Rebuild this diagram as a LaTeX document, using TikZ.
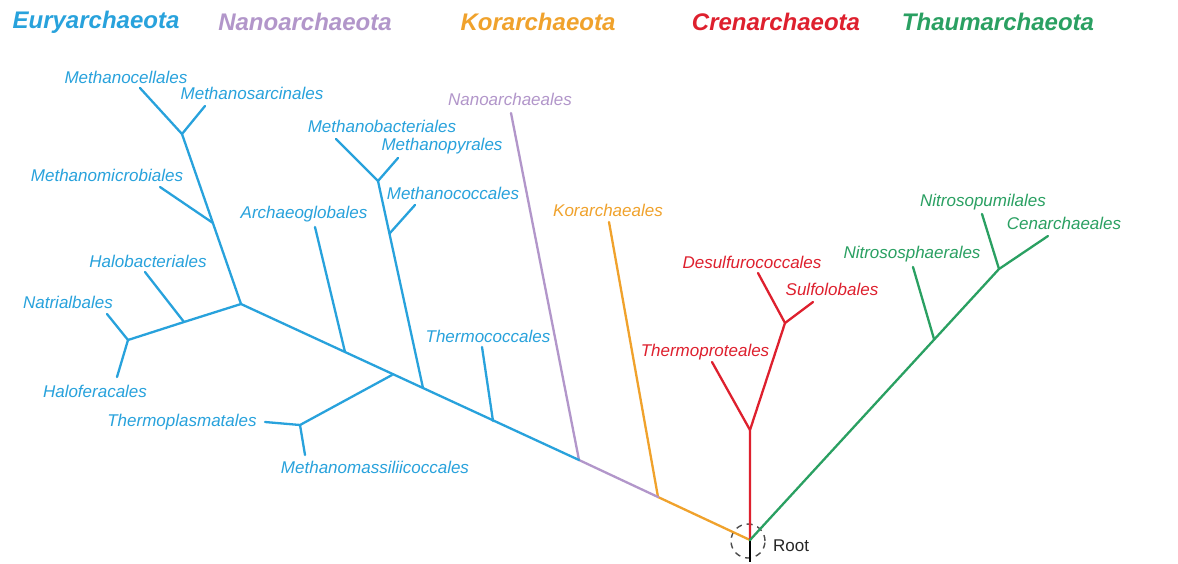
\documentclass[tikz,border=0pt]{standalone}
\usepackage{fontspec}
\usepackage{xcolor}
\newfontfamily\treeFont{Liberation Sans}
\definecolor{euryBlue}{RGB}{40,162,220}
\definecolor{nanoPurple}{RGB}{178,150,202}
\definecolor{korOrange}{RGB}{240,162,44}
\definecolor{crenRed}{RGB}{222,32,46}
\definecolor{thaumGreen}{RGB}{42,160,98}
\newcommand{\treeLeafFont}{\treeFont\itshape\fontsize{17}{20}\selectfont}
\newcommand{\treeCladeFont}{\treeFont\bfseries\itshape\fontsize{24}{28}\selectfont}

\begin{document}
\begin{tikzpicture}[x=1pt,y=-1pt,
  leaf/.style={font=\treeLeafFont, inner sep=0pt, anchor=center},
  clade/.style={font=\treeCladeFont, inner sep=0pt, anchor=center},
  branch/.style={line width=2.3pt, line cap=round, line join=round}]
\useasboundingbox[fill=white] (0,0) rectangle (1178,563);
\node[clade, text=euryBlue] (hEury) at (96,22) {Euryarchaeota};
\node[clade, text=nanoPurple] (hNano) at (305,22) {Nanoarchaeota};
\node[clade, text=korOrange] (hKor) at (538,22) {Korarchaeota};
\node[clade, text=crenRed] (hCren) at (776,22) {Crenarchaeota};
\node[clade, text=thaumGreen] (hThaum) at (998,22) {Thaumarchaeota};
\coordinate (root) at (750,540);
\coordinate (jKor) at (658,497);
\coordinate (jNano) at (579,460);
\coordinate (jThermococ) at (493,421);
\coordinate (jMbact) at (423,388);
\coordinate (jTplasma) at (392,375);
\coordinate (jArchaeo) at (345,352);
\coordinate (jEury) at (241,304);
\coordinate (jHalobac) at (184,322);
\coordinate (jHalofer) at (128,340);
\coordinate (jMmicro) at (213,223);
\coordinate (jMsarc) at (182,134);
\coordinate (jMcocc) at (390,233);
\coordinate (jMpyr) at (378,181);
\coordinate (jMmass) at (300,425);
\coordinate (jThermoprot) at (750,430);
\coordinate (jSulfo) at (785,323);
\coordinate (jNitrososph) at (934,339);
\coordinate (jNitrosopum) at (999,269);
\coordinate (tMcell) at (140,88);
\coordinate (tMsarc) at (205,106);
\coordinate (tMmicro) at (160,187);
\coordinate (tHalobac) at (145,272);
\coordinate (tNatri) at (107,314);
\coordinate (tHalofer) at (117,377);
\coordinate (tTplasma) at (265,422);
\coordinate (tMmass) at (305,455);
\coordinate (tArchaeo) at (315,227);
\coordinate (tMbact) at (336,139);
\coordinate (tMpyr) at (398,158);
\coordinate (tMcocc) at (415,205);
\coordinate (tThermococ) at (482,347);
\coordinate (tNano) at (511,113);
\coordinate (tKor) at (609,222);
\coordinate (tDesulfo) at (758,273);
\coordinate (tSulfo) at (813,302);
\coordinate (tThermoprot) at (712,362);
\coordinate (tNitrosopum) at (982,214);
\coordinate (tCenarch) at (1048,236);
\coordinate (tNitrososph) at (913,267);
\coordinate (rootEnd) at (750,562);
\node[leaf, text=euryBlue] (lMcell) at (126,77) {Methanocellales};
\node[leaf, text=euryBlue] (lMsarc) at (252,93) {Methanosarcinales};
\node[leaf, text=euryBlue] (lMmicro) at (107,175) {Methanomicrobiales};
\node[leaf, text=euryBlue] (lHalobac) at (148,261) {Halobacteriales};
\node[leaf, text=euryBlue] (lNatri) at (68,302) {Natrialbales};
\node[leaf, text=euryBlue] (lHalofer) at (95,391) {Haloferacales};
\node[leaf, text=euryBlue] (lTplasma) at (182,422) {Thermoplasmatales};
\node[leaf, text=euryBlue] (lMmass) at (375,467) {Methanomassiliicoccales};
\node[leaf, text=euryBlue] (lArchaeo) at (304,214) {Archaeoglobales};
\node[leaf, text=euryBlue] (lMbact) at (382,126) {Methanobacteriales};
\node[leaf, text=euryBlue] (lMpyr) at (442,146) {Methanopyrales};
\node[leaf, text=euryBlue] (lMcocc) at (453,193) {Methanococcales};
\node[leaf, text=euryBlue] (lThermococ) at (488,336) {Thermococcales};
\node[leaf, text=nanoPurple] (lNano) at (510,99) {Nanoarchaeales};
\node[leaf, text=korOrange] (lKor) at (608,210) {Korarchaeales};
\node[leaf, text=crenRed] (lDesulfo) at (752,262) {Desulfurococcales};
\node[leaf, text=crenRed] (lSulfo) at (832,289) {Sulfolobales};
\node[leaf, text=crenRed] (lThermoprot) at (705,352) {Thermoproteales};
\node[leaf, text=thaumGreen] (lNitrosopum) at (983,202) {Nitrosopumilales};
\node[leaf, text=thaumGreen] (lCenarch) at (1064,223) {Cenarchaeales};
\node[leaf, text=thaumGreen] (lNitrososph) at (912,254) {Nitrososphaerales};
\node[draw=black!70, dash pattern=on 6pt off 5pt, line width=1.4pt, circle, minimum size=34pt, inner sep=0pt] (rootRing) at (748,541) {};
\node[font=\treeFont\fontsize{17}{20}\selectfont, text=black!85, anchor=west, inner sep=0pt] (lRoot) at (773,546) {Root};
\draw[line width=1.5pt, black] (root) -- (rootEnd);
\draw[branch, korOrange] (root) -- (jKor) -- (tKor);
\draw[branch, nanoPurple] (jKor) -- (jNano) -- (tNano);
\draw[branch, euryBlue] (jNano) -- (jEury) -- (jHalobac) -- (jHalofer) -- (tNatri);
\draw[branch, euryBlue] (jHalofer) -- (tHalofer);
\draw[branch, euryBlue] (jHalobac) -- (tHalobac);
\draw[branch, euryBlue] (jEury) -- (jMsarc) -- (tMcell);
\draw[branch, euryBlue] (jMsarc) -- (tMsarc);
\draw[branch, euryBlue] (jMmicro) -- (tMmicro);
\draw[branch, euryBlue] (jThermococ) -- (tThermococ);
\draw[branch, euryBlue] (jMbact) -- (jMpyr) -- (tMbact);
\draw[branch, euryBlue] (jMpyr) -- (tMpyr);
\draw[branch, euryBlue] (jMcocc) -- (tMcocc);
\draw[branch, euryBlue] (jTplasma) -- (jMmass) -- (tTplasma);
\draw[branch, euryBlue] (jMmass) -- (tMmass);
\draw[branch, euryBlue] (jArchaeo) -- (tArchaeo);
\draw[branch, crenRed] (root) -- (jThermoprot) -- (jSulfo) -- (tDesulfo);
\draw[branch, crenRed] (jSulfo) -- (tSulfo);
\draw[branch, crenRed] (jThermoprot) -- (tThermoprot);
\draw[branch, thaumGreen] (root) -- (jNitrosopum) -- (tNitrosopum);
\draw[branch, thaumGreen] (jNitrosopum) -- (tCenarch);
\draw[branch, thaumGreen] (jNitrososph) -- (tNitrososph);
\end{tikzpicture}
\end{document}
